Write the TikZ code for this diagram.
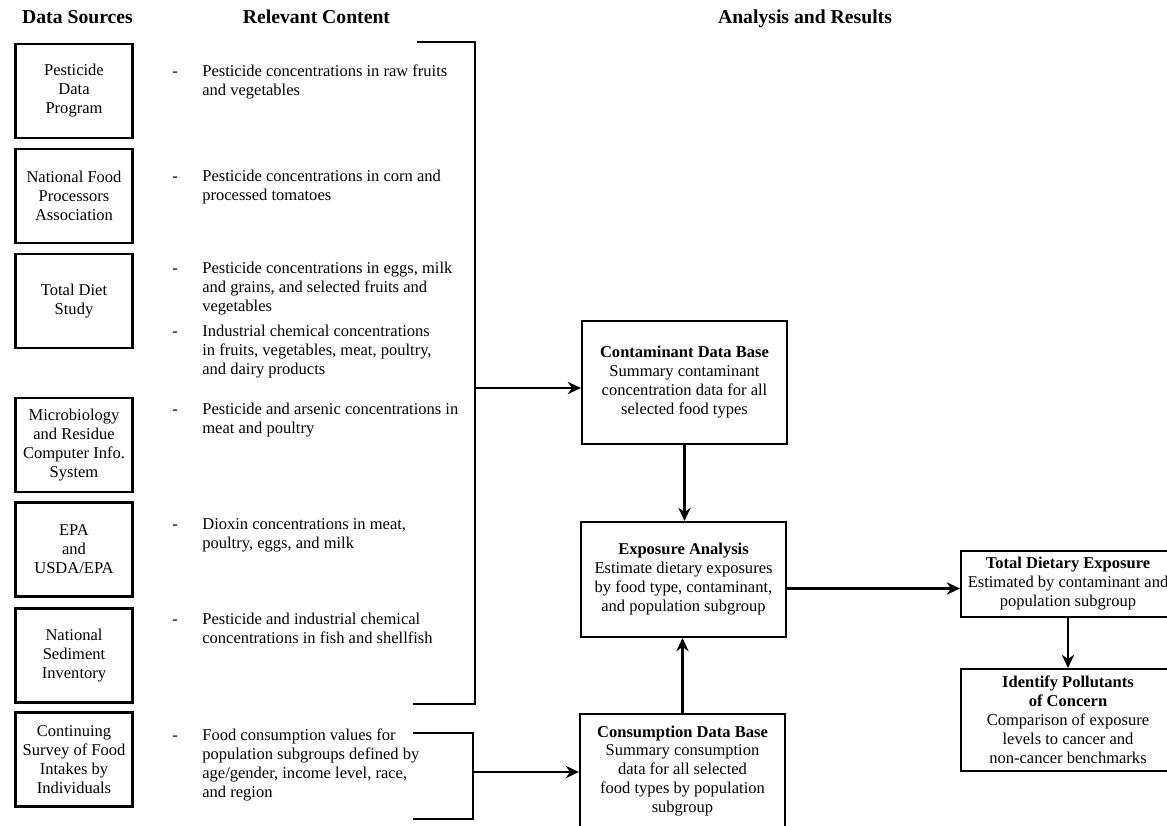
\documentclass[tikz,border=0pt]{standalone}
\usepackage{fontspec}
\setmainfont{Liberation Serif}
\usetikzlibrary{arrows.meta}
\tikzset{
  every node/.style={font=\fontsize{9.4}{10.8}\selectfont},
  srcbox/.style={draw,line width=1.2pt,align=center,minimum width=2.34cm,minimum height=1.88cm,inner sep=1pt},
  resbox/.style={draw,line width=1.2pt,align=center,minimum width=4.1cm,inner sep=1pt},
  hdr/.style={font=\fontsize{11.2}{13}\selectfont\bfseries,anchor=base},
  itm/.style={anchor=west,inner sep=0pt},
  arr/.style={line width=1.2pt,-{Stealth[length=7.5pt,width=7pt]}},
  brk/.style={line width=1.2pt}
}
\newcommand{\contentlist}[1]{\begin{tabular}{@{}p{0.6cm}@{}l@{}}#1\end{tabular}}

\begin{document}
\begin{tikzpicture}
    \clip(0,0)rectangle(23.34,-16.5);
    % column headings
    \node[hdr](hsrc)at(1.55,-0.47){Data Sources};
    \node[hdr](hcont)at(6.33,-0.47){Relevant Content};
    \node[hdr](hres)at(16.1,-0.47){Analysis and Results};
    % data sources
    \node[srcbox](pdp)at(1.48,-1.82){Pesticide\\Data\\Program};
    \node[srcbox](nfpa)at(1.48,-3.92){National Food\\Processors\\Association};
    \node[srcbox](tds)at(1.48,-6.02){Total Diet\\Study};
    \node[srcbox](mrcis)at(1.48,-8.90){Microbiology\\and Residue\\Computer Info.\\System};
    \node[srcbox](epa)at(1.48,-10.99){EPA\\and\\USDA/EPA};
    \node[srcbox](nsi)at(1.48,-13.11){National\\Sediment\\Inventory};
    \node[srcbox](csfii)at(1.48,-15.19){Continuing\\Survey of Food\\Intakes by\\Individuals};
    % relevant content
    \node[itm](cpdp)at(3.44,-1.65){\contentlist{- & Pesticide concentrations in raw fruits\\ & and vegetables}};
    \node[itm](cnfpa)at(3.44,-3.74){\contentlist{- & Pesticide concentrations in corn and\\ & processed tomatoes}};
    \node[itm](ctdsa)at(3.44,-5.78){\contentlist{- & Pesticide concentrations in eggs, milk\\ & and grains, and selected fruits and\\ & vegetables}};
    \node[itm](ctdsb)at(3.44,-7.04){\contentlist{- & Industrial chemical concentrations\\ & in fruits, vegetables, meat, poultry,\\ & and dairy products}};
    \node[itm](cmrcis)at(3.44,-8.41){\contentlist{- & Pesticide and arsenic concentrations in\\ & meat and poultry}};
    \node[itm](cepa)at(3.44,-10.71){\contentlist{- & Dioxin concentrations in meat,\\ & poultry, eggs, and milk}};
    \node[itm](cnsi)at(3.44,-12.61){\contentlist{- & Pesticide and industrial chemical\\ & concentrations in fish and shellfish}};
    \node[itm](ccsfii)at(3.44,-15.30){\contentlist{- & Food consumption values for\\ & population subgroups defined by\\ & age/gender, income level, race,\\ & and region}};
    % analysis and results
    \node[resbox,minimum height=2.46cm](cdb)at(13.69,-7.65){\textbf{Contaminant Data Base}\\Summary contaminant\\concentration data for all\\selected food types};
    \node[resbox,minimum height=2.30cm](expo)at(13.67,-11.59){\textbf{Exposure Analysis}\\Estimate dietary exposures\\by food type, contaminant,\\and population subgroup};
    \node[resbox,minimum height=2.28cm](consdb)at(13.65,-15.42){\textbf{Consumption Data Base}\\Summary consumption\\data for all selected\\food types by population\\subgroup};
    \node[resbox,minimum width=4.28cm,minimum height=1.32cm](tde)at(21.36,-11.68){\textbf{Total Dietary Exposure}\\Estimated by contaminant and\\population subgroup};
    \node[resbox,minimum width=4.28cm,minimum height=2.04cm](ipc)at(21.36,-14.40){\textbf{Identify Pollutants}\\\textbf{of Concern}\\Comparison of exposure\\levels to cancer and\\non-cancer benchmarks};
    % brackets
    \coordinate(b1)at(9.50,-7.76);
    \coordinate(b2)at(9.46,-15.44);
    \draw[brk](8.34,-0.84)-|(9.50,-14.08)--(8.26,-14.08);
    \draw[brk](8.26,-14.66)-|(9.46,-16.38)--(8.26,-16.38);
    \draw[arr](b1)--(b1-|cdb.west);
    \draw[arr](b2)--(b2-|consdb.west);
    \draw[arr](cdb.south)--(cdb.south|-expo.north);
    \draw[arr](consdb.north)--(consdb.north|-expo.south);
    \draw[arr]([yshift=-0.18cm]expo.east)--([yshift=-0.18cm]expo.east-|tde.west);
    \draw[arr](tde.south)--(ipc.north);
\end{tikzpicture}
\end{document}
